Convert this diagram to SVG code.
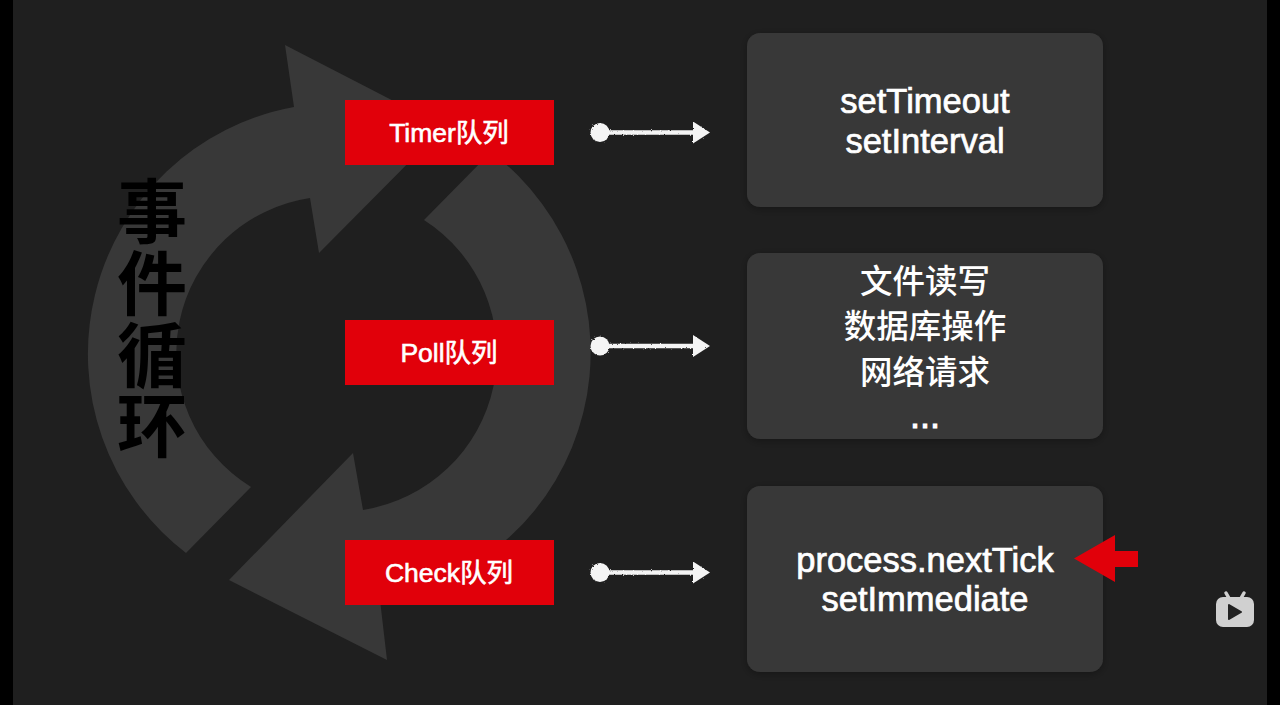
<svg xmlns="http://www.w3.org/2000/svg" width="1280" height="705" viewBox="0 0 1280 705">
<defs>
<style>
.sans{font-family:"Liberation Sans","Noto Sans CJK SC",sans-serif;fill:#fff;text-anchor:middle}
.big{font-size:34.500px;stroke:#fff;stroke-width:.7}
.dots{font-size:36px;stroke:#fff;stroke-width:1}
.cjk{font-family:"Noto Sans CJK SC",sans-serif;font-size:32.500px;font-weight:500;fill:#fff;text-anchor:middle}
.lab{font-size:26.500px;stroke:#fff;stroke-width:.6}
.ring{fill:#383838}
.box{fill:#383838;filter:url(#sh)}
.red{fill:#e1000a}
.conn{fill:#f4f4f4;stroke:#f4f4f4;filter:url(#rough)}
</style>
<filter id="sh" x="-10%" y="-10%" width="120%" height="125%"><feDropShadow dx="0" dy="2" stdDeviation="4" flood-color="#000" flood-opacity=".3"/></filter>
<filter id="rough" x="-5%" y="-30%" width="110%" height="160%"><feTurbulence type="fractalNoise" baseFrequency=".6" numOctaves="2" seed="3"/><feDisplacementMap in="SourceGraphic" scale="2.500"/></filter>
<g id="arrowShape">
<circle cx="600" cy="0" r="9.500" stroke="none"/>
<line x1="606" y1="0" x2="696" y2="0" stroke-width="4.500"/>
<polygon points="693,-11 710,0 693,11" stroke="none"/>
</g>
</defs>
<rect width="1280" height="705" fill="#000"/>
<rect x="13" y="0" width="1254" height="705" fill="#1f1f1f"/>
<g id="cycle-ring">
<path class="ring" d="M186,553 A251,251 0 0 1 294,107 L285,45 L444,127 L319,253 L310,198 A157,157 0 0 0 251,487 Z"/>
<path class="ring" d="M424,220 A158.500,158.500 0 0 1 363,510 L353,453 L229,580 L387,660 L380,600 A251,251 0 0 0 491,152 Z"/>
</g>
<g id="title">
<text font-family="'Noto Sans CJK SC',sans-serif" font-size="70" font-weight="700" fill="#000" text-anchor="middle"><tspan x="152" y="238">事</tspan><tspan x="152" y="310">件</tspan><tspan x="152" y="382">循</tspan><tspan x="152" y="452">环</tspan></text>
</g>
<g id="timer-queue"><rect class="red" x="345" y="100" width="209" height="65"/><text class="sans lab" x="449" y="142">Timer队列</text></g>
<g id="poll-queue"><rect class="red" x="345" y="320" width="209" height="65"/><text class="sans lab" x="449" y="362">Poll队列</text></g>
<g id="check-queue"><rect class="red" x="345" y="540" width="209" height="65"/><text class="sans lab" x="449" y="582">Check队列</text></g>
<g id="connectors">
<use href="#arrowShape" class="conn" y="132.500"/>
<use href="#arrowShape" class="conn" y="346"/>
<use href="#arrowShape" class="conn" y="572.500"/>
</g>
<g id="timer-apis"><rect class="box" x="747" y="33" width="356" height="174" rx="13"/><text class="sans big" x="925" y="113">setTimeout</text><text class="sans big" x="925" y="153">setInterval</text></g>
<g id="poll-apis"><rect class="box" x="747" y="253" width="356" height="186" rx="13"/><text class="cjk" x="925" y="293">文件读写</text><text class="cjk" x="925" y="338">数据库操作</text><text class="cjk" x="925" y="384">网络请求</text><text class="sans dots" x="925" y="428">...</text></g>
<g id="check-apis"><rect class="box" x="747" y="486" width="356" height="186" rx="13"/><text class="sans big" x="925" y="572">process.nextTick</text><text class="sans big" x="925" y="611">setImmediate</text></g>
<g id="red-pointer"><polygon class="red" points="1074,558.500 1115,535 1115,551 1138,551 1138,567 1115,567 1115,582"/></g>
<g id="tv-icon">
<path d="M1226,593 L1230,600 M1244,593 L1240,600" stroke="#d0d0d0" stroke-width="3.500" stroke-linecap="round"/>
<rect x="1216" y="597" width="38" height="30" rx="7" fill="#d0d0d0"/>
<path d="M1229,605 L1241,612 L1229,619 Z" fill="#222" stroke="#222" stroke-width="2" stroke-linejoin="round"/>
</g>
</svg>
